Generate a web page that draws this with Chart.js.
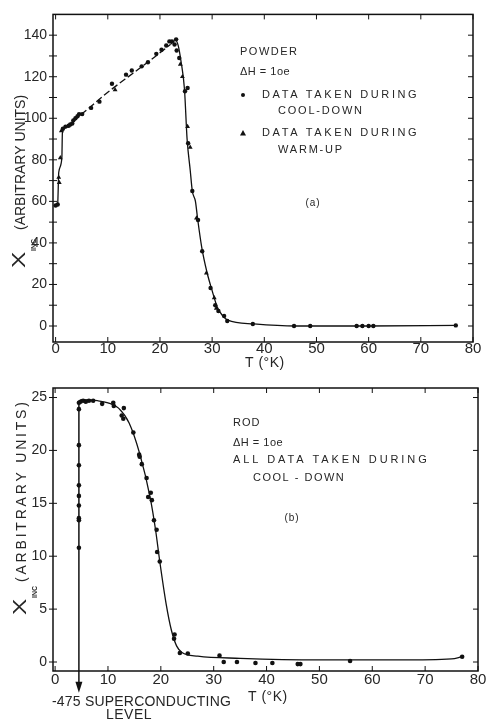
<!DOCTYPE html>
<html>
<head>
<meta charset="utf-8">
<script src="https://cdn.jsdelivr.net/npm/chart.js@4.4.1/dist/chart.umd.min.js"></script>
<style>
  html, body { margin: 0; padding: 0; background: #fff; }
  #wrap { position: relative; width: 487px; height: 723px; overflow: hidden; }
  #powderChart { position: absolute; left: 0; top: 0; }
  #rodChart { position: absolute; left: 0; top: 370px; }
</style>
</head>
<body>
<div id="wrap">
  <canvas id="powderChart" width="487" height="370"></canvas>
  <canvas id="rodChart" width="487" height="353"></canvas>
</div>
<script>
// (a) powder sample - cool-down points (circles)
const powderCoolT = [0, 0.4, 1.4, 1.9, 2.5, 2.8, 3.2, 3.4, 3.8, 4.2, 4.5, 5.1, 6.8, 8.4, 10.8, 13.5, 14.6, 16.5, 17.7, 19.3, 20.3, 21.2, 21.8, 22.3, 22.8, 23.1, 23.2, 23.7, 24.8, 25.3, 25.4, 26.2, 27.3, 28.1, 29.7, 30.6, 31.2, 32.3, 32.9, 37.8, 45.7, 48.8, 57.7, 58.8, 60, 60.9, 76.7];
const powderCoolX = [58, 58.5, 95, 96, 96.4, 97, 97.5, 99, 100, 101, 102, 102, 105, 108, 116.6, 121, 123, 125, 127, 131, 133, 135, 137, 137, 135.5, 138, 132.6, 129, 113, 114.6, 88, 65, 51, 36, 18.3, 10, 7.2, 4.8, 2.4, 1, 0, 0, 0, 0, 0, 0, 0.3];

// (a) powder sample - warm-up points (triangles)
const powderWarmT = [0.6, 0.7, 0.9, 1.1, 11.4, 23.9, 24.3, 25.3, 25.8, 27, 28.9, 30.4, 30.8];
const powderWarmX = [71.5, 69, 81, 94, 113.7, 126, 120, 96, 86, 52, 25.5, 13.6, 8.5];

// (a) drawn curve
const powderCurveT = [0, 0.4, 0.6, 1.2, 1.3, 2, 3, 4, 5, 10, 15, 20, 22, 23, 23.5, 24, 24.7, 25.2, 25.8, 26.2, 26.8, 27.2, 28, 29, 30, 31, 32, 33, 38, 46, 60, 77];
const powderCurveX = [58, 59, 74, 81, 93, 95.5, 97, 100, 102, 112.5, 122, 131.5, 135.5, 137.5, 135, 128, 114, 90, 75, 65, 60, 52, 38, 26, 17, 9, 5, 2.8, 1, 0, 0, 0.3];

// (b) rod sample - all cool-down points
const rodT = [4.5, 4.5, 4.5, 4.5, 4.5, 4.5, 4.5, 4.5, 4.5, 4.5, 4.8, 5.3, 5.8, 6.4, 7.2, 8.9, 11, 11.1, 12.6, 12.9, 13, 14.8, 15.9, 16, 16.4, 17.3, 17.6, 18.1, 18.3, 18.7, 19.2, 19.3, 19.8, 22.5, 22.6, 23.6, 25.1, 31.1, 31.9, 34.4, 37.9, 41.1, 45.9, 46.4, 55.8, 77];
const rodX = [24.5, 23.9, 20.5, 18.6, 16.7, 15.7, 14.8, 13.6, 13.4, 10.8, 24.6, 24.7, 24.6, 24.7, 24.7, 24.4, 24.5, 24.2, 23.3, 23, 24, 21.7, 19.6, 19.4, 18.7, 17.4, 15.6, 16, 15.3, 13.4, 12.5, 10.4, 9.5, 2.2, 2.6, 0.85, 0.8, 0.6, 0, 0, -0.1, -0.1, -0.2, -0.2, 0.1, 0.5];

// (b) drawn curve and the drop to the superconducting level
const rodCurveT = [4.5, 5, 8, 10, 12, 14, 16, 18, 19, 19.8, 21, 22, 23, 24, 27, 35, 50, 65, 75, 77];
const rodCurveX = [24.6, 24.8, 24.7, 24.5, 24, 22.6, 19.7, 15.5, 12.5, 9.5, 5.5, 3, 1.5, 0.9, 0.55, 0.35, 0.2, 0.2, 0.3, 0.5];
const rodDropT = [4.5, 4.5];
const rodDropX = [24.7, -2.9];

// tick values
const tTicks = [0, 10, 20, 30, 40, 50, 60, 70, 80];
const powderTicks = [0, 10, 20, 30, 40, 50, 60, 70, 80, 90, 100, 110, 120, 130, 140];
const rodTicks = [0, 5, 10, 15, 20, 25];

const ink = '#262626';
const fontName = '"Liberation Sans", Arial, sans-serif';

function toPoints(xs, ys) {
    return xs.map((x, i) => ({ x: x, y: ys[i] }));
}

function drawText(ctx, str, x, y, size, spacing, align) {
    ctx.save();
    ctx.font = size + 'px ' + fontName;
    ctx.letterSpacing = (spacing || 0) + 'px';
    ctx.textAlign = align || 'left';
    ctx.textBaseline = 'middle';
    ctx.fillStyle = ink;
    ctx.fillText(str, x, y);
    ctx.restore();
}

function drawYTitle(ctx, baseX, startY, gap, spacing) {
    ctx.save();
    ctx.translate(baseX, startY);
    ctx.rotate(-Math.PI / 2);
    ctx.fillStyle = ink;
    ctx.textBaseline = 'alphabetic';
    ctx.save();
    ctx.scale(1.35, 1);
    ctx.font = '18px ' + fontName;
    ctx.fillText('X', 0, 0);
    ctx.restore();
    ctx.font = 'bold 7px ' + fontName;
    ctx.fillText('INC', 17, 11);
    ctx.font = '14px ' + fontName;
    ctx.letterSpacing = spacing + 'px';
    ctx.fillText('(ARBITRARY UNITS)', gap, 0);
    ctx.restore();
}

// frame with tick marks on all four sides
const framePlugin = {
    id: 'frame',
    afterDraw(chart, args, opts) {
        const ctx = chart.ctx;
        const a = chart.chartArea;
        const xs = chart.scales.x, ys = chart.scales.y;
        ctx.save();
        ctx.strokeStyle = '#111';
        ctx.lineWidth = 1.5;
        ctx.strokeRect(a.left, a.top, a.right - a.left, a.bottom - a.top);
        ctx.lineWidth = 1;
        ctx.beginPath();
        opts.xTicks.forEach(v => {
            const px = xs.getPixelForValue(v);
            ctx.moveTo(px, a.bottom); ctx.lineTo(px, a.bottom - 5);
            ctx.moveTo(px, a.top); ctx.lineTo(px, a.top + 5);
        });
        opts.yTicks.forEach(v => {
            const py = ys.getPixelForValue(v);
            ctx.moveTo(a.left - 4, py); ctx.lineTo(a.left + 4, py);
            ctx.moveTo(a.right, py); ctx.lineTo(a.right - 5, py);
        });
        ctx.stroke();

        // drop line with arrow, allowed to run below the axis
        if (opts.drop) {
            const x0 = xs.getPixelForValue(opts.drop.t[0]);
            const y0 = ys.getPixelForValue(opts.drop.v[0]);
            const x1 = xs.getPixelForValue(opts.drop.t[1]);
            const y1 = ys.getPixelForValue(opts.drop.v[1]);
            ctx.lineWidth = 1.5;
            ctx.beginPath();
            ctx.moveTo(x0, y0);
            ctx.lineTo(x1, y1 - 8);
            ctx.stroke();
            ctx.fillStyle = '#111';
            ctx.beginPath();
            ctx.moveTo(x1, y1);
            ctx.lineTo(x1 - 3.5, y1 - 11);
            ctx.lineTo(x1 + 3.5, y1 - 11);
            ctx.closePath();
            ctx.fill();
        }
        ctx.restore();
        if (opts.notes) opts.notes(ctx);
    }
};

function axisOptions(min, max, ticks, labelEvery, afterFit, size, pad) {
    return {
        type: 'linear',
        min: min,
        max: max,
        grid: { display: false, drawTicks: false },
        border: { display: false },
        afterBuildTicks: (scale) => { scale.ticks = ticks.map(v => ({ value: v })); },
        afterFit: afterFit,
        ticks: {
            autoSkip: false,
            maxRotation: 0,
            padding: pad,
            color: ink,
            font: { family: fontName, size: size },
            callback: (v) => (v % labelEvery === 0 ? String(v) : '')
        }
    };
}

function displayPowderChart() {
    const ctx = document.getElementById('powderChart');
    new Chart(ctx, {
        type: 'scatter',
        data: {
            datasets: [{
                data: toPoints(powderCurveT, powderCurveX),
                showLine: true,
                borderColor: '#111',
                borderWidth: 1.3,
                pointRadius: 0,
                cubicInterpolationMode: 'monotone',
                segment: {
                    borderDash: (c) => (c.p0.parsed.x >= 2 && c.p1.parsed.x <= 22 ? [7, 3] : undefined)
                }
            }, {
                data: toPoints(powderCoolT, powderCoolX),
                pointStyle: 'circle',
                pointRadius: 2.2,
                backgroundColor: '#111',
                borderColor: '#111',
                borderWidth: 0
            }, {
                data: toPoints(powderWarmT, powderWarmX),
                pointStyle: 'triangle',
                pointRadius: 2.8,
                backgroundColor: '#111',
                borderColor: '#111',
                borderWidth: 0
            }]
        },
        options: {
            responsive: false,
            animation: false,
            layout: { padding: { left: 0, right: 14, top: 13, bottom: 0 } },
            scales: {
                x: axisOptions(-0.5, 80, tTicks, 10, (s) => { s.height = 28; }, 15, -2),
                y: axisOptions(-7.7, 150, powderTicks, 20, (s) => { s.width = 53; }, 14, 6)
            },
            plugins: {
                legend: { display: false },
                tooltip: { enabled: false },
                frame: {
                    xTicks: tTicks,
                    yTicks: powderTicks,
                    notes: (c) => {
                        drawYTitle(c, 25, 268, 38, 0);
                        drawText(c, 'T (°K)', 245, 363, 14, 0.5);
                        drawText(c, 'POWDER', 240, 52, 11, 1.5);
                        drawText(c, 'ΔH = 1oe', 240, 72, 11, 0.5);
                        c.save();
                        c.fillStyle = '#111';
                        c.beginPath(); c.arc(243, 95, 2, 0, Math.PI * 2); c.fill();
                        c.beginPath(); c.moveTo(243, 130); c.lineTo(246, 135.5); c.lineTo(240, 135.5); c.closePath(); c.fill();
                        c.restore();
                        drawText(c, 'DATA TAKEN DURING', 262, 95, 11, 2.6);
                        drawText(c, 'COOL-DOWN', 278, 111, 11, 1.8);
                        drawText(c, 'DATA TAKEN DURING', 262, 133, 11, 2.6);
                        drawText(c, 'WARM-UP', 278, 150, 11, 1.8);
                        drawText(c, '(a)', 313, 203, 10, 1, 'center');
                    }
                }
            }
        },
        plugins: [framePlugin]
    });
}

function displayRodChart() {
    const ctx = document.getElementById('rodChart');
    new Chart(ctx, {
        type: 'scatter',
        data: {
            datasets: [{
                data: toPoints(rodCurveT, rodCurveX),
                showLine: true,
                borderColor: '#111',
                borderWidth: 1.3,
                pointRadius: 0,
                cubicInterpolationMode: 'monotone'
            }, {
                data: toPoints(rodT, rodX),
                pointStyle: 'circle',
                pointRadius: 2.3,
                backgroundColor: '#111',
                borderColor: '#111',
                borderWidth: 0
            }]
        },
        options: {
            responsive: false,
            animation: false,
            layout: { padding: { left: 0, right: 9, top: 18, bottom: 0 } },
            scales: {
                x: axisOptions(-0.4, 80, tTicks, 10, (s) => { s.height = 52; }, 15, 0),
                y: axisOptions(-0.85, 25.9, rodTicks, 5, (s) => { s.width = 53; }, 14, 6)
            },
            plugins: {
                legend: { display: false },
                tooltip: { enabled: false },
                frame: {
                    xTicks: tTicks,
                    yTicks: rodTicks,
                    drop: { t: rodDropT, v: rodDropX },
                    notes: (c) => {
                        drawYTitle(c, 26, 245, 33, 2.8);
                        drawText(c, 'T (°K)', 248, 327, 14, 0.5);
                        drawText(c, '-475 SUPERCONDUCTING', 52, 332, 14, 0.2);
                        drawText(c, 'LEVEL', 129, 345, 14, 0.5, 'center');
                        drawText(c, 'ROD', 233, 53, 11, 1);
                        drawText(c, 'ΔH = 1oe', 233, 73, 11, 0.5);
                        drawText(c, 'ALL DATA TAKEN DURING', 233, 90, 11, 2.9);
                        drawText(c, 'COOL - DOWN', 253, 108, 11, 1.5);
                        drawText(c, '(b)', 292, 148, 10, 1, 'center');
                    }
                }
            }
        },
        plugins: [framePlugin]
    });
}

displayPowderChart();
displayRodChart();
</script>
</body>
</html>
